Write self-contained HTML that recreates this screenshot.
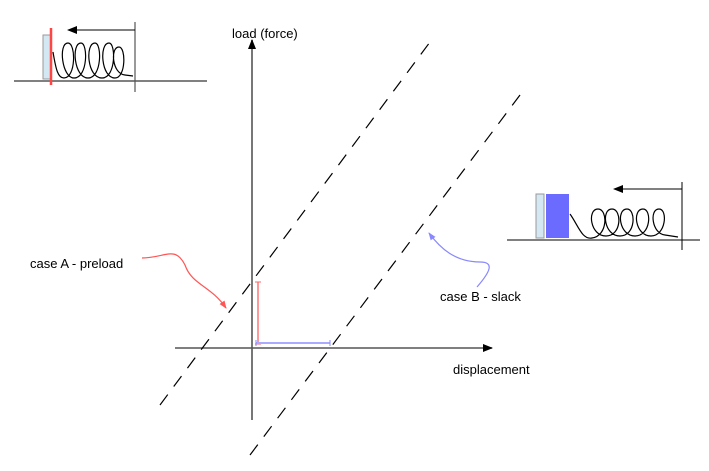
<!DOCTYPE html>
<html><head><style>
body{margin:0;background:#fff;width:709px;height:471px;overflow:hidden}
svg{display:block}
text{font-family:"Liberation Sans",sans-serif;font-size:13px;fill:#000}
</style></head><body>
<svg width="709" height="471" viewBox="0 0 709 471">
<defs>
<marker id="ah" markerWidth="10" markerHeight="8" refX="9" refY="4" orient="auto" markerUnits="userSpaceOnUse"><path d="M0,0 L10,4 L0,8z" fill="#000"/></marker>
<marker id="ar" markerWidth="8" markerHeight="6" refX="7" refY="3" orient="auto" markerUnits="userSpaceOnUse"><path d="M0,0 L8,3 L0,6z" fill="#f55"/></marker>
<marker id="ab" markerWidth="8" markerHeight="6" refX="7" refY="3" orient="auto" markerUnits="userSpaceOnUse"><path d="M0,0 L8,3 L0,6z" fill="#88f"/></marker>
</defs>
<line x1="252" y1="420" x2="252" y2="40" stroke="#777" stroke-width="2" marker-end="url(#ah)"/>
<line x1="175" y1="348" x2="492" y2="348" stroke="#555" stroke-width="1.5" marker-end="url(#ah)"/>
<text x="232" y="38">load (force)</text>
<text x="453" y="374">displacement</text>
<line x1="160" y1="405" x2="430" y2="42" stroke="#000" stroke-width="1.2" stroke-dasharray="13,10"/>
<line x1="250" y1="455" x2="520" y2="95" stroke="#000" stroke-width="1.2" stroke-dasharray="13,10"/>
<line x1="258" y1="282" x2="258" y2="344" stroke="#f99" stroke-width="2"/>
<line x1="255" y1="282" x2="261" y2="282" stroke="#f66"/>
<line x1="255" y1="344" x2="261" y2="344" stroke="#f66"/>
<line x1="256" y1="343" x2="330" y2="343" stroke="#aaf" stroke-width="2"/>
<line x1="256" y1="340" x2="256" y2="346" stroke="#88f"/>
<line x1="330" y1="340" x2="330" y2="346" stroke="#88f"/>
<path d="M142,258 C165,258 175,245 185,265 C192,285 210,285 226,308" fill="none" stroke="#f55" stroke-width="1.2" marker-end="url(#ar)"/>
<text x="30" y="268">case A - preload</text>
<path d="M477,287 C490,272 495,262 480,262 C455,262 440,248 429,233" fill="none" stroke="#88f" stroke-width="1.2" marker-end="url(#ab)"/>
<text x="440" y="301">case B - slack</text>
<line x1="14" y1="81" x2="207" y2="81" stroke="#000"/>
<line x1="135" y1="22" x2="135" y2="92" stroke="#555" stroke-width="1.2"/>
<line x1="135" y1="30" x2="68" y2="30" stroke="#000" marker-end="url(#ah)"/>
<rect x="43" y="35" width="8" height="44" fill="#d4e8f4" stroke="#999"/>
<line x1="51" y1="28" x2="51" y2="85" stroke="#f44" stroke-width="2.5"/>
<path d="M53,52 C56,70 58,78 64,78 C76,78 76,43 68,43 C58,43 62,78 74,78 C88,78 88,43 81,43 C71,43 74,78 88,78 C102,78 102,43 95,43 C85,43 87,78 102,78 C116,78 116,43 109,43 C99,43 101,78 115,78 C126,78 126,47 119,47 C110,47 112,74 125,75 L133,76" fill="none" stroke="#000" stroke-width="1.2"/>
<line x1="507" y1="240" x2="700" y2="240" stroke="#000"/>
<line x1="682" y1="182" x2="682" y2="250" stroke="#000"/>
<line x1="682" y1="189" x2="614" y2="189" stroke="#000" marker-end="url(#ah)"/>
<rect x="536" y="194" width="8" height="44" fill="#d4e8f4" stroke="#999"/>
<rect x="546" y="194" width="23" height="44" fill="#6b6bff"/>
<path d="M570,214 C578,225 582,240 592,238 C608,236 608,209 598,209 C587,209 590,236 606,236 C622,236 622,209 612,209 C601,209 604,236 620,236 C636,236 636,209 627,209 C616,209 619,236 635,236 C651,236 652,209 643,209 C632,209 635,236 651,236 C666,236 668,209 659,209 C649,209 652,234 665,235 L678,237" fill="none" stroke="#000" stroke-width="1.2"/>
</svg>
</body></html>
